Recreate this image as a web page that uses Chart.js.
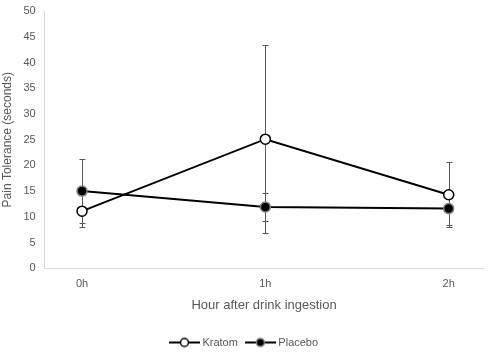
<!DOCTYPE html>
<html>
<head>
<meta charset="utf-8">
<script src="https://cdn.jsdelivr.net/npm/chart.js@4.4.0/dist/chart.umd.min.js"></script>
<style>
  html, body { margin: 0; padding: 0; background: #fff; }
  #wrap { width: 490px; height: 353px; }
</style>
</head>
<body>
<div id="wrap"><canvas id="mycanvas"></canvas></div>
<script>
// data
var hours = ["0h", "1h", "2h"];
var kratom = [11.1, 25.1, 14.3];
var kratomErr = [3.1, 18.3, 6.3];
var placebo = [15.0, 11.9, 11.6];
var placeboErr = [6.2, 2.7, 3.2];
var yTicks = [0, 5, 10, 15, 20, 25, 30, 35, 40, 45, 50];

var font = "'Liberation Sans', Arial, sans-serif";
var grey = "#595959";

function toPoints(vals, errs) {
	var pts = [];
	for (var i in vals) {
		pts.push({ x: Number(i), y: vals[i], err: errs[i] });
	}
	return pts;
}

// legend symbol: short line with marker
function legendIcon(fill, stroke) {
	var c = document.createElement("canvas");
	c.width = 31; c.height = 12;
	var g = c.getContext("2d");
	g.strokeStyle = "#000";
	g.lineWidth = 2;
	g.beginPath(); g.moveTo(0, 6); g.lineTo(31, 6); g.stroke();
	g.beginPath(); g.arc(15.5, 6, 4, 0, Math.PI * 2);
	g.fillStyle = fill; g.fill();
	g.lineWidth = 1.5; g.strokeStyle = stroke; g.stroke();
	return c;
}

var errorBars = {
	id: "errorBars",
	beforeDatasetsDraw: function(chart) {
		var ctx = chart.ctx;
		var xs = chart.scales.x, ys = chart.scales.y;
		ctx.save();
		ctx.strokeStyle = grey;
		ctx.lineWidth = 1;
		chart.data.datasets.forEach(function(ds) {
			ds.data.forEach(function(p) {
				var x = Math.round(xs.getPixelForValue(p.x)) + 0.5;
				var top = ys.getPixelForValue(p.y + p.err);
				var bot = ys.getPixelForValue(p.y - p.err);
				ctx.beginPath();
				ctx.moveTo(x, top); ctx.lineTo(x, bot);
				ctx.moveTo(x - 3, Math.round(top) + 0.5); ctx.lineTo(x + 3, Math.round(top) + 0.5);
				ctx.moveTo(x - 3, Math.round(bot) + 0.5); ctx.lineTo(x + 3, Math.round(bot) + 0.5);
				ctx.stroke();
			});
		});
		ctx.restore();
	}
};

var chartdata = {
	datasets: [
		{
			label: "Kratom",
			data: toPoints(kratom, kratomErr),
			borderColor: "#000",
			borderWidth: 2,
			pointRadius: 5,
			pointBackgroundColor: "#fff",
			pointBorderColor: "#000",
			pointBorderWidth: 1.5,
			icon: legendIcon("#fff", "#000")
		},
		{
			label: "Placebo",
			data: toPoints(placebo, placeboErr),
			borderColor: "#000",
			borderWidth: 2,
			pointRadius: 5,
			pointBackgroundColor: "#000",
			pointBorderColor: "#808080",
			pointBorderWidth: 1.5,
			icon: legendIcon("#000", "#808080")
		}
	]
};

new Chart(document.getElementById("mycanvas"), {
	type: "line",
	data: chartdata,
	plugins: [errorBars],
	options: {
		responsive: true,
		maintainAspectRatio: false,
		animation: false,
		events: [],
		layout: { padding: { left: 0, right: 0, top: -3, bottom: -5 } },
		scales: {
			x: {
				type: "linear",
				min: -0.204,
				max: 2.19,
				grid: { display: false, drawTicks: false },
				border: { color: "#d9d9d9", width: 1 },
				ticks: {
					stepSize: 1,
					includeBounds: false,
					color: grey,
					font: { family: font, size: 11 },
					padding: 9,
					callback: function(v) { return hours[v]; }
				},
				title: {
					display: true,
					text: "Hour after drink ingestion",
					color: grey,
					font: { family: font, size: 13 },
					padding: { top: -2, bottom: 14 }
				}
			},
			y: {
				min: 0,
				max: 50,
				afterBuildTicks: function(axis) {
					axis.ticks = yTicks.map(function(v) { return { value: v }; });
				},
				grid: { display: false, drawTicks: false },
				border: { color: "#d9d9d9", width: 1 },
				ticks: {
					color: grey,
					font: { family: font, size: 11, lineHeight: 0.4 },
					padding: 9
				},
				title: {
					display: true,
					text: "Pain Tolerance (seconds)",
					color: grey,
					font: { family: font, size: 12 },
					padding: { top: 0, bottom: 0 }
				}
			}
		},
		plugins: {
			tooltip: { enabled: false },
			legend: {
				position: "bottom",
				labels: {
					usePointStyle: true,
					pointStyleWidth: 25,
					boxHeight: 12,
					padding: 10,
					color: grey,
					font: { family: font, size: 11 },
					generateLabels: function(chart) {
						return chart.data.datasets.map(function(ds, i) {
							return {
								text: ds.label,
								pointStyle: ds.icon,
								fontColor: grey,
								lineWidth: 0,
								datasetIndex: i
							};
						});
					}
				}
			}
		}
	}
});
</script>
</body>
</html>
